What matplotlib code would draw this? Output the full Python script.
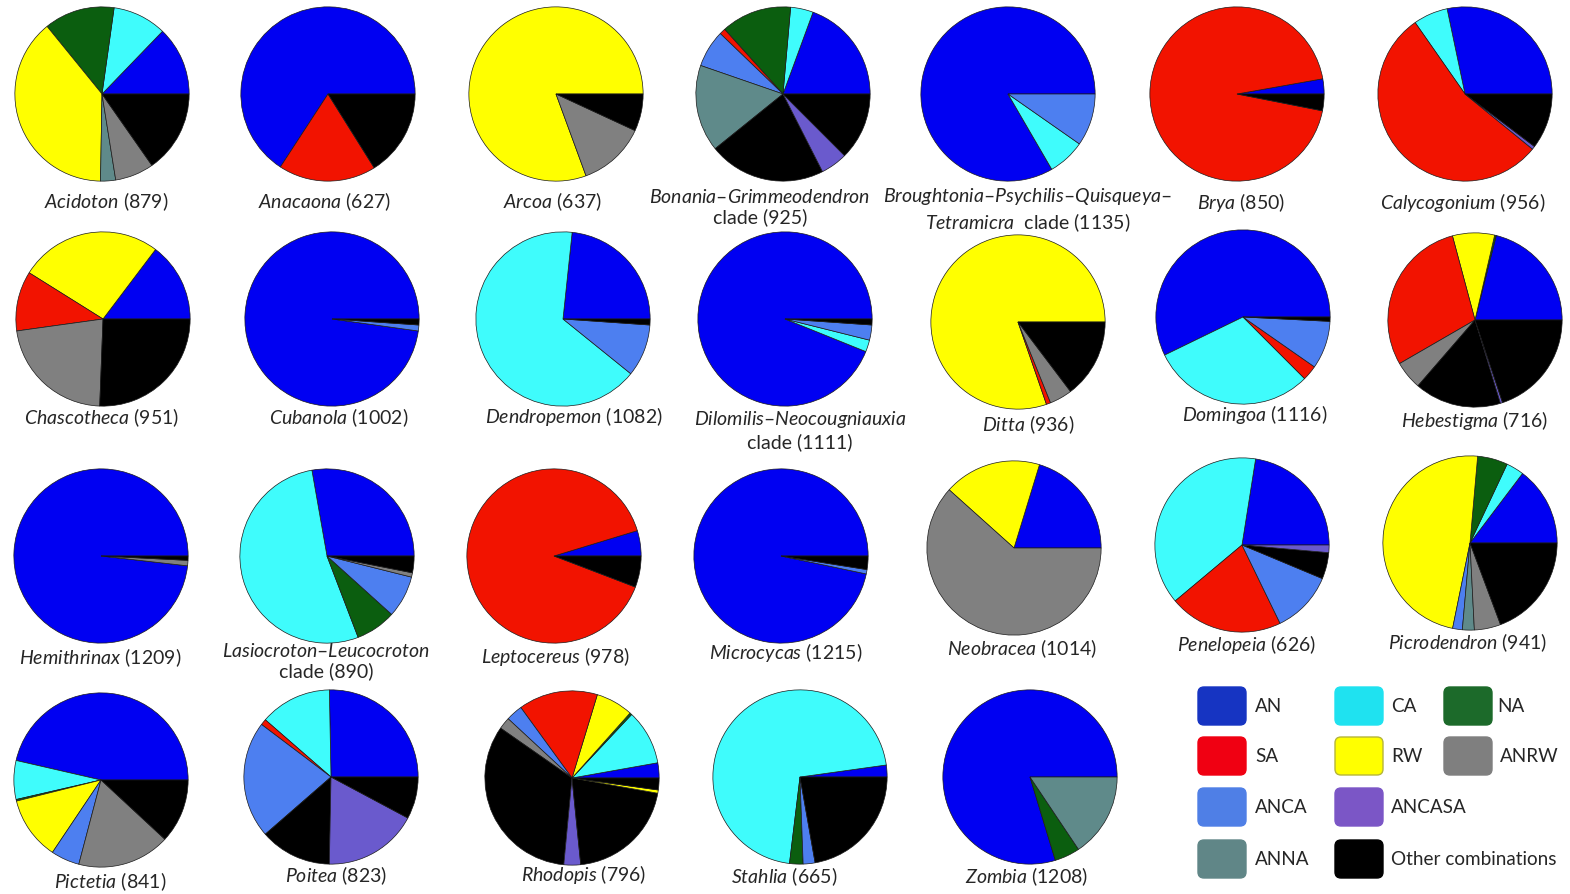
import matplotlib
matplotlib.use("Agg")
import matplotlib.pyplot as plt
from matplotlib.patches import FancyBboxPatch

plt.rcParams["font.family"] = ["Lato", "DejaVu Sans"]
plt.rcParams["mathtext.fontset"] = "custom"
plt.rcParams["mathtext.it"] = "Lato:italic"
plt.rcParams["mathtext.rm"] = "Lato"

W, H, DPI = 1570, 895, 100

# ---------------- data (percent of species per region, drawn CCW from 3 o'clock) ----
acidoton_regions = ["AN", "CA", "NA", "RW", "ANNA", "ANRW", "OTH"]
acidoton_pct = [12.8, 10.0, 13.1, 38.9, 2.8, 7.2, 15.3]
anacaona_regions = ["AN", "SA", "OTH"]
anacaona_pct = [65.8, 18.1, 16.1]
arcoa_regions = ["RW", "ANRW", "OTH"]
arcoa_pct = [80.6, 12.5, 6.9]
bonania_regions = ["AN", "CA", "NA", "SA", "ANCA", "ANNA", "OTH", "ANCASA", "OTH"]
bonania_pct = [19.4, 4.2, 13.1, 1.1, 6.9, 16.1, 21.7, 5.0, 12.5]
broughtonia_regions = ["AN", "CA", "ANCA"]
broughtonia_pct = [83.3, 6.9, 9.7]
brya_regions = ["AN", "SA", "OTH"]
brya_pct = [2.8, 94.2, 3.1]
calycogonium_regions = ["AN", "CA", "SA", "ANCASA", "OTH"]
calycogonium_pct = [28.3, 6.4, 54.4, 0.6, 10.3]
chascotheca_regions = ["AN", "RW", "SA", "ANRW", "OTH"]
chascotheca_pct = [14.7, 26.4, 11.1, 22.2, 25.6]
cubanola_regions = ["AN", "ANCA", "OTH"]
cubanola_pct = [97.8, 1.1, 1.1]
dendropemon_regions = ["AN", "CA", "ANCA", "OTH"]
dendropemon_pct = [23.3, 65.8, 9.7, 1.1]
dilomilis_regions = ["AN", "CA", "ANCA", "OTH"]
dilomilis_pct = [93.9, 2.2, 2.8, 1.1]
ditta_regions = ["RW", "SA", "ANRW", "OTH"]
ditta_pct = [80.3, 0.8, 4.2, 14.7]
domingoa_regions = ["AN", "CA", "SA", "ANCA", "OTH"]
domingoa_pct = [57.2, 30.3, 2.8, 8.9, 0.8]
hebestigma_regions = ["AN", "NA", "RW", "SA", "ANRW", "OTH", "ANCASA", "OTH"]
hebestigma_pct = [21.1, 0.3, 7.8, 29.2, 5.3, 16.1, 0.4, 19.9]
hemithrinax_regions = ["AN", "ANRW", "OTH"]
hemithrinax_pct = [98.2, 1.0, 0.8]
lasiocroton_regions = ["AN", "CA", "NA", "ANCA", "ANRW", "OTH"]
lasiocroton_pct = [27.8, 53.1, 7.5, 7.8, 0.8, 3.1]
leptocereus_regions = ["AN", "SA", "OTH"]
leptocereus_pct = [4.7, 89.4, 5.8]
microcycas_regions = ["AN", "ANCA", "OTH"]
microcycas_pct = [96.7, 0.8, 2.5]
neobracea_regions = ["AN", "RW", "ANRW"]
neobracea_pct = [20.3, 18.1, 61.7]
penelopeia_regions = ["AN", "CA", "SA", "ANCA", "OTH", "ANCASA"]
penelopeia_pct = [22.5, 38.6, 21.1, 11.5, 4.9, 1.4]
picrodendron_regions = ["AN", "CA", "NA", "RW", "ANCA", "ANNA", "ANRW", "OTH"]
picrodendron_pct = [14.7, 3.3, 5.6, 48.2, 1.8, 2.2, 4.9, 19.3]
pictetia_regions = ["AN", "CA", "NA", "RW", "ANCA", "ANRW", "OTH"]
pictetia_pct = [46.4, 7.2, 0.3, 11.7, 5.3, 17.2, 11.9]
poitea_regions = ["AN", "CA", "SA", "ANCA", "OTH", "ANCASA", "OTH"]
poitea_pct = [25.3, 13.3, 1.1, 21.7, 13.3, 17.5, 7.8]
rhodopis_regions = ["AN", "CA", "NA", "RW", "SA", "ANCA", "ANRW", "OTH", "ANCASA", "OTH", "RW", "OTH"]
rhodopis_pct = [2.8, 10.2, 0.4, 6.9, 14.7, 3.1, 2.2, 33.2, 3.1, 20.6, 0.6, 2.2]
stahlia_regions = ["AN", "CA", "NA", "ANCA", "OTH"]
stahlia_pct = [2.2, 70.8, 2.5, 2.2, 22.2]
zombia_regions = ["AN", "NA", "ANNA"]
zombia_pct = [79.7, 4.7, 15.6]

labels = [
    r"$\mathit{Acidoton}$ (879)", r"$\mathit{Anacaona}$ (627)", r"$\mathit{Arcoa}$ (637)",
    "$\\mathit{Bonania–Grimmeodendron}$\nclade (925)",
    "$\\mathit{Broughtonia–Psychilis–Quisqueya–}$\n$\\mathit{Tetramicra}$  clade (1135)",
    r"$\mathit{Brya}$ (850)", r"$\mathit{Calycogonium}$ (956)",
    r"$\mathit{Chascotheca}$ (951)", r"$\mathit{Cubanola}$ (1002)", r"$\mathit{Dendropemon}$ (1082)",
    "$\\mathit{Dilomilis–Neocougniauxia}$\nclade (1111)",
    r"$\mathit{Ditta}$ (936)", r"$\mathit{Domingoa}$ (1116)", r"$\mathit{Hebestigma}$ (716)",
    r"$\mathit{Hemithrinax}$ (1209)",
    "$\\mathit{Lasiocroton–Leucocroton}$\nclade (890)",
    r"$\mathit{Leptocereus}$ (978)", r"$\mathit{Microcycas}$ (1215)", r"$\mathit{Neobracea}$ (1014)",
    r"$\mathit{Penelopeia}$ (626)", r"$\mathit{Picrodendron}$ (941)",
    r"$\mathit{Pictetia}$ (841)", r"$\mathit{Poitea}$ (823)", r"$\mathit{Rhodopis}$ (796)",
    r"$\mathit{Stahlia}$ (665)", r"$\mathit{Zombia}$ (1208)",
]

legend_keys = ["AN", "SA", "ANCA", "ANNA", "CA", "RW", "ANCASA", "OTH", "NA", "ANRW"]
legend_names = ["AN", "SA", "ANCA", "ANNA", "CA", "RW", "ANCASA", "Other combinations", "NA", "ANRW"]

pies = [
    (acidoton_regions, acidoton_pct), (anacaona_regions, anacaona_pct), (arcoa_regions, arcoa_pct),
    (bonania_regions, bonania_pct), (broughtonia_regions, broughtonia_pct), (brya_regions, brya_pct),
    (calycogonium_regions, calycogonium_pct), (chascotheca_regions, chascotheca_pct),
    (cubanola_regions, cubanola_pct), (dendropemon_regions, dendropemon_pct),
    (dilomilis_regions, dilomilis_pct), (ditta_regions, ditta_pct), (domingoa_regions, domingoa_pct),
    (hebestigma_regions, hebestigma_pct), (hemithrinax_regions, hemithrinax_pct),
    (lasiocroton_regions, lasiocroton_pct), (leptocereus_regions, leptocereus_pct),
    (microcycas_regions, microcycas_pct), (neobracea_regions, neobracea_pct),
    (penelopeia_regions, penelopeia_pct), (picrodendron_regions, picrodendron_pct),
    (pictetia_regions, pictetia_pct), (poitea_regions, poitea_pct), (rhodopis_regions, rhodopis_pct),
    (stahlia_regions, stahlia_pct), (zombia_regions, zombia_pct),
]

# ---------------- style / layout ----------------
PIE_COLORS = {"AN": "#0000f2", "CA": "#3ffcfc", "NA": "#0b5e0f", "SA": "#f21300",
              "RW": "#ffff00", "ANRW": "#808080", "ANCA": "#4d7ff0", "ANCASA": "#6a5acd",
              "ANNA": "#5f8a8a", "OTH": "#000000"}
LEG_COLORS = {"AN": "#1634c2", "CA": "#1fe2f0", "NA": "#1c6a2a", "SA": "#f00012",
              "RW": "#ffff00", "ANRW": "#7f7f7f", "ANCA": "#4f7fe6", "ANCASA": "#7b56c6",
              "ANNA": "#608687", "OTH": "#000000"}

centers = [(102, 95), (328, 95), (556, 95), (783, 95), (1008, 95), (1237, 95), (1465, 95),
           (103, 320), (332, 320), (563, 320), (785, 320), (1018, 323), (1243, 318), (1475, 321),
           (101, 557), (327, 557), (554, 557), (781, 557), (1014, 549), (1242, 546), (1470, 544),
           (101, 781), (331, 778), (572, 779), (800, 778), (1030, 778)]
label_pos = [(106, 202), (324, 202), (553, 202), (760, 207), (1028, 210), (1241, 202), (1463, 202),
             (102, 418), (339, 418), (574, 416), (800, 430), (1028, 425), (1255, 414), (1475, 420),
             (100, 658), (326, 661), (555, 656), (786, 652), (1022, 649), (1247, 645), (1468, 643),
             (110, 882), (336, 876), (584, 875), (784, 877), (1027, 877)]
R = 88

fig = plt.figure(figsize=(W / DPI, H / DPI), dpi=DPI)
fig.patch.set_facecolor("white")

for (regions, vals), (cx, cy) in zip(pies, centers):
    ax = fig.add_axes([(cx - R) / W, 1 - (cy + R) / H, 2 * R / W, 2 * R / H])
    ax.pie(vals, colors=[PIE_COLORS[r] for r in regions], startangle=0, counterclock=True,
           radius=1.0, wedgeprops=dict(edgecolor="#1a1a1a", linewidth=0.5, antialiased=True))
    ax.set_xlim(-1.01, 1.01)
    ax.set_ylim(-1.01, 1.01)
    ax.set_aspect("equal")
    ax.axis("off")

ov = fig.add_axes([0, 0, 1, 1], zorder=5)
ov.set_xlim(0, W)
ov.set_ylim(H, 0)
ov.axis("off")

for lab, (lx, ly) in zip(labels, label_pos):
    ov.text(lx, ly, lab, ha="center", va="center", fontsize=14, color="#262626",
            linespacing=1.2, multialignment="center")

# legend
col_x = [1198, 1335, 1444]
lab_x = [1255, 1391, 1497]
row_y = [707, 757, 808, 860]
slots = [(0, 0), (0, 1), (0, 2), (0, 3), (1, 0), (1, 1), (1, 2), (1, 3), (2, 0), (2, 1)]
for key, name, (c, r) in zip(legend_keys, legend_names, slots):
    x0, yc = col_x[c], row_y[r]
    ov.add_patch(FancyBboxPatch((x0, yc - 19), 48, 38, boxstyle="round,pad=0,rounding_size=6",
                                facecolor=LEG_COLORS[key],
                                edgecolor="#b5b53a" if key == "RW" else LEG_COLORS[key],
                                linewidth=1.0))
    ov.text(lab_x[c] + (3 if name == "ANRW" else 0), yc, name, ha="left", va="center",
            fontsize=13.6, color="#262626")

fig.savefig("out.png", dpi=DPI, facecolor="white")
